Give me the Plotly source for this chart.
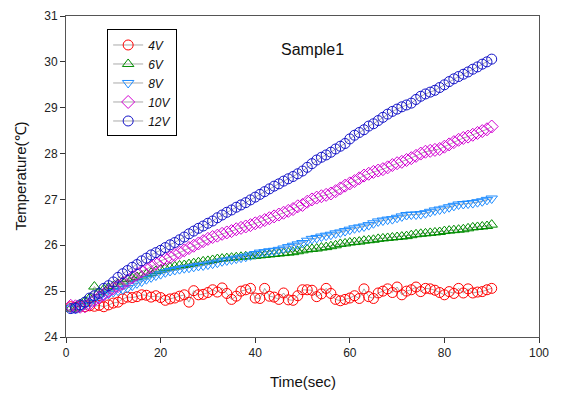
import plotly.graph_objects as go

time_s = list(range(1, 91))

v4 = [24.66, 24.65, 24.67, 24.66, 24.68, 24.67, 24.69, 24.66, 24.70, 24.74,
      24.76, 24.83, 24.87, 24.86, 24.88, 24.92, 24.91, 24.87, 24.90, 24.86,
      24.80, 24.83, 24.85, 24.89, 24.92, 24.76, 25.01, 24.92, 24.93, 24.97,
      25.03, 24.98, 25.07, 24.95, 24.82, 24.89, 25.00, 25.03, 25.06, 24.85,
      24.84, 25.06, 24.89, 24.87, 24.82, 24.96, 24.81, 24.80, 24.90, 25.03,
      25.03, 25.02, 24.88, 24.94, 25.06, 24.95, 24.82, 24.79, 24.82, 24.85,
      24.90, 24.84, 25.05, 24.88, 24.84, 24.96, 25.00, 25.05, 24.97, 25.09,
      24.92, 25.00, 25.03, 25.09, 24.99, 25.06, 25.05, 25.02, 24.97, 24.92,
      24.99, 24.95, 25.06, 24.96, 25.05, 24.96, 24.98, 24.99, 25.03, 25.06]

v6 = [24.62, 24.65, 24.72, 24.78, 24.85, 25.10, 24.98, 25.04, 25.08, 25.11,
      25.16, 25.21, 25.26, 25.28, 25.31, 25.34, 25.37, 25.40, 25.44, 25.47,
      25.50, 25.52, 25.54, 25.56, 25.57, 25.59, 25.61, 25.63, 25.65, 25.66,
      25.68, 25.70, 25.71, 25.72, 25.73, 25.74, 25.75, 25.76, 25.76, 25.77,
      25.78, 25.79, 25.80, 25.81, 25.82, 25.83, 25.84, 25.85, 25.87, 25.89,
      25.91, 25.92, 25.93, 25.95, 25.96, 25.98, 26.00, 26.03, 26.04, 26.06,
      26.07, 26.08, 26.10, 26.11, 26.12, 26.14, 26.15, 26.16, 26.17, 26.18,
      26.19, 26.20, 26.22, 26.24, 26.25, 26.26, 26.27, 26.28, 26.29, 26.31,
      26.32, 26.33, 26.34, 26.35, 26.37, 26.39, 26.40, 26.41, 26.42, 26.45]

v8 = [24.62, 24.62, 24.66, 24.70, 24.75, 24.82, 24.86, 24.90, 24.94, 24.98,
      25.01, 25.04, 25.07, 25.12, 25.17, 25.21, 25.26, 25.30, 25.34, 25.37,
      25.41, 25.44, 25.46, 25.48, 25.50, 25.51, 25.53, 25.55, 25.56, 25.58,
      25.60, 25.62, 25.65, 25.67, 25.69, 25.71, 25.73, 25.75, 25.78, 25.81,
      25.84, 25.85, 25.87, 25.88, 25.90, 25.93, 25.96, 25.99, 26.02, 26.05,
      26.10, 26.14, 26.16, 26.19, 26.21, 26.23, 26.26, 26.28, 26.31, 26.34,
      26.37, 26.39, 26.41, 26.44, 26.48, 26.52, 26.54, 26.56, 26.57, 26.60,
      26.63, 26.66, 26.67, 26.67, 26.68, 26.70, 26.73, 26.76, 26.78, 26.80,
      26.83, 26.86, 26.89, 26.90, 26.91, 26.92, 26.94, 26.96, 26.99, 27.02]

v10 = [24.68, 24.67, 24.66, 24.67, 24.72, 24.80, 24.86, 24.93, 25.00, 25.06,
       25.11, 25.17, 25.23, 25.30, 25.37, 25.43, 25.48, 25.53, 25.60, 25.66,
       25.70, 25.74, 25.79, 25.84, 25.89, 25.94, 25.99, 26.04, 26.09, 26.14,
       26.18, 26.21, 26.25, 26.28, 26.31, 26.35, 26.38, 26.41, 26.44, 26.48,
       26.51, 26.55, 26.59, 26.63, 26.67, 26.71, 26.75, 26.79, 26.85, 26.88,
       26.95, 27.00, 27.04, 27.07, 27.10, 27.13, 27.18, 27.24, 27.30, 27.35,
       27.40, 27.46, 27.52, 27.56, 27.60, 27.63, 27.66, 27.70, 27.75, 27.79,
       27.82, 27.86, 27.90, 27.95, 28.00, 28.04, 28.06, 28.08, 28.10, 28.15,
       28.20, 28.25, 28.30, 28.34, 28.37, 28.41, 28.45, 28.49, 28.53, 28.59]

v12 = [24.62, 24.63, 24.70, 24.76, 24.85, 24.90, 24.95, 25.06, 25.12, 25.20,
       25.30, 25.38, 25.45, 25.52, 25.58, 25.66, 25.72, 25.79, 25.84, 25.89,
       25.95, 26.01, 26.06, 26.12, 26.18, 26.25, 26.31, 26.37, 26.42, 26.48,
       26.53, 26.60, 26.66, 26.72, 26.77, 26.83, 26.88, 26.93, 26.99, 27.05,
       27.11, 27.17, 27.23, 27.29, 27.34, 27.40, 27.45, 27.50, 27.56, 27.62,
       27.70, 27.78, 27.86, 27.92, 27.97, 28.03, 28.10, 28.16, 28.22, 28.32,
       28.40, 28.46, 28.52, 28.60, 28.65, 28.72, 28.79, 28.86, 28.92, 28.97,
       29.02, 29.06, 29.10, 29.18, 29.25, 29.30, 29.34, 29.38, 29.44, 29.50,
       29.57, 29.63, 29.68, 29.73, 29.78, 29.84, 29.89, 29.95, 30.00, 30.06]

series_names = ["4V", "6V", "8V", "10V", "12V"]
series_values = [v4, v6, v8, v10, v12]
series_colors = ["#FF0000", "#008C00", "#1E8CFF", "#D200D2", "#1414C8"]
series_symbols = ["circle-open", "triangle-up-open", "triangle-down-open",
                  "diamond-open", "circle-open"]

x_ticks = [0, 20, 40, 60, 80, 100]
y_ticks = [24, 25, 26, 27, 28, 29, 30, 31]

FONT = "Liberation Sans, Arial, sans-serif"

fig = go.Figure()
for name, vals, col, sym in zip(series_names, series_values, series_colors, series_symbols):
    fig.add_trace(go.Scatter(
        x=time_s, y=vals, name=name, mode="lines+markers",
        line=dict(color="#555555", width=0.5),
        marker=dict(symbol=sym, size=10, color=col, line=dict(color=col, width=1)),
    ))

axis_common = dict(
    showgrid=False, zeroline=False, showline=True, mirror=True,
    linecolor="#555555", linewidth=1, ticks="outside", ticklen=5,
    tickcolor="#333333", tickwidth=1,
    tickfont=dict(family=FONT, size=12, color="#222222"),
)

fig.update_layout(
    width=562, height=394,
    margin=dict(l=66, r=23, t=9, b=57),
    paper_bgcolor="white", plot_bgcolor="white",
    font=dict(family=FONT, color="#111111"),
    xaxis=dict(range=[0, 100], tickvals=x_ticks, **axis_common),
    yaxis=dict(range=[24, 31], tickvals=y_ticks, **axis_common),
    legend=dict(
        x=0.087, y=0.958, xanchor="left", yanchor="top",
        bordercolor="#000000", borderwidth=1, bgcolor="white",
        font=dict(family=FONT, size=12, color="#111111", style="italic"),
        tracegroupgap=0, itemwidth=30,
    ),
    showlegend=True,
    annotations=[
        dict(text="Sample1", x=0.522, y=0.928, xref="paper", yref="paper",
             showarrow=False, font=dict(family=FONT, size=16, color="#111111")),
        dict(text="Time(sec)", x=0.5, y=-0.139, xref="paper", yref="paper",
             showarrow=False, yanchor="middle",
             font=dict(family=FONT, size=15, color="#111111")),
        dict(text="Temperature(℃)", x=-0.097, y=0.5, xref="paper", yref="paper",
             showarrow=False, textangle=-90, xanchor="center",
             font=dict(family=FONT, size=15, color="#111111")),
    ],
)

fig.write_html(
    "out.html",
    config={"displayModeBar": False},
    post_script="document.body.style.margin='0px';"
                "document.documentElement.style.overflow='hidden';",
)
